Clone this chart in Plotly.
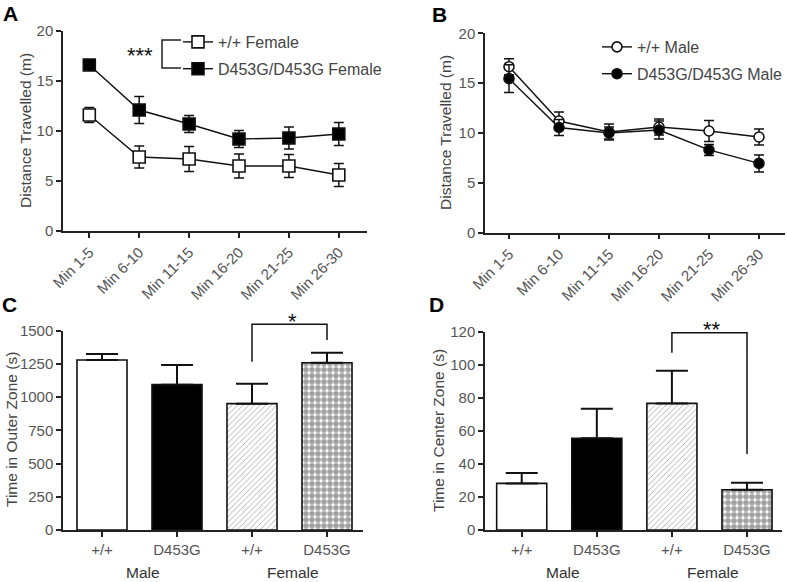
import plotly.graph_objects as go

W, H = 787, 582
FONT = "Arial, 'Liberation Sans', Helvetica, sans-serif"

# ---- data ----
time_bins = ["Min 1-5", "Min 6-10", "Min 11-15", "Min 16-20", "Min 21-25", "Min 26-30"]

female_wt = [11.6, 7.4, 7.2, 6.5, 6.5, 5.6]
female_wt_sem = [0.75, 1.1, 1.25, 1.2, 1.15, 1.15]
female_ko = [16.6, 12.1, 10.7, 9.2, 9.3, 9.7]
female_ko_sem = [0.5, 1.35, 0.85, 0.85, 1.1, 1.15]

male_wt = [16.65, 11.2, 10.1, 10.6, 10.2, 9.6]
male_wt_sem = [0.8, 0.9, 0.8, 0.8, 1.05, 0.8]
male_ko = [15.45, 10.55, 10.0, 10.3, 8.3, 6.95]
male_ko_sem = [1.4, 0.8, 0.6, 0.9, 0.55, 0.85]

genotypes = ["+/+", "D453G", "+/+", "D453G"]
sexes = ["Male", "Female"]
outer_zone = [1279, 1094, 951, 1259]
outer_zone_sem = [45, 147, 150, 75]
center_zone = [28.2, 55.5, 76.6, 24.4]
center_zone_sem = [6.3, 17.9, 19.8, 4.2]

# significance brackets: [left leg bottom, top, right leg bottom]
sig_outer = [1266, 1548, 1430]
sig_center = [107.3, 119.4, 46.0]

# ---- helpers ----
def px(x):
    return x / W

def py(y):
    return 1 - y / H

def dom(v, lo, hi):
    return (v - lo) / (hi - lo)

line_rng_a = [-0.527, 5.565]
line_rng_b = [-0.48, 5.52]
bar_rng_c = [-0.52, 3.48]
bar_rng_d = [-0.489, 3.462]

axis_style = dict(
    showline=True, linecolor="#222", linewidth=1.5,
    ticks="outside", ticklen=5, tickwidth=1.5, tickcolor="#222",
    showgrid=False, zeroline=False,
    tickfont=dict(family=FONT, size=15, color="#555"),
)

traces = []
idx = list(range(len(time_bins)))


def line_trace(y, err, symbol, fill, name, xa, ya, legend, size):
    return go.Scatter(
        x=idx, y=y, mode="lines+markers", name=name,
        line=dict(color="#111", width=1.4),
        marker=dict(symbol=symbol, size=size, color=fill,
                    line=dict(color="#111", width=1.6)),
        error_y=dict(type="data", array=err, color="#111", thickness=1.5, width=5),
        xaxis=xa, yaxis=ya, legend=legend, legendgroup=name,
    )


traces.append(line_trace(female_wt, female_wt_sem, "square", "white", "+/+ Female", "x", "y", "legend", 12))
traces.append(line_trace(female_ko, female_ko_sem, "square", "black", "D453G/D453G Female", "x", "y", "legend", 12))
traces.append(line_trace(male_wt, male_wt_sem, "circle", "white", "+/+ Male", "x2", "y2", "legend2", 10))
traces.append(line_trace(male_ko, male_ko_sem, "circle", "black", "D453G/D453G Male", "x2", "y2", "legend2", 10))

bar_marker = dict(
    color=["white", "black", "white", "white"],
    line=dict(color="#111", width=1.6),
    pattern=dict(shape=["", "", "/", "."], fgcolor=["black", "black", "#666", "black"],
                 size=[6, 6, 4, 6], solidity=[0.3, 0.3, 0.2, 0.7], fillmode="overlay"),
)
for vals, sem, xa, ya in [(outer_zone, outer_zone_sem, "x3", "y3"),
                          (center_zone, center_zone_sem, "x4", "y4")]:
    traces.append(go.Bar(
        x=[0, 1, 2, 3], y=vals, width=0.667, marker=bar_marker,
        error_y=dict(type="data", symmetric=False, array=sem, arrayminus=[0] * 4,
                     color="#111", thickness=2, width=16),
        xaxis=xa, yaxis=ya, showlegend=False,
    ))

fig = go.Figure(data=traces)

fig.update_layout(
    template="none",
    width=W, height=H,
    margin=dict(l=0, r=0, t=0, b=0, autoexpand=False),
    paper_bgcolor="white", plot_bgcolor="white",
    font=dict(family=FONT, color="#444"),
    xaxis=dict(axis_style, domain=[px(63), px(367)], range=line_rng_a, anchor="y",
               tickvals=idx, ticktext=time_bins, tickangle=-45),
    yaxis=dict(axis_style, domain=[py(231), py(31)], range=[0, 20], dtick=5, anchor="x"),
    xaxis2=dict(axis_style, domain=[px(485), px(785)], range=line_rng_b, anchor="y2",
                tickvals=idx, ticktext=time_bins, tickangle=-45),
    yaxis2=dict(axis_style, domain=[py(232.7), py(33.3)], range=[0, 20], dtick=5, anchor="x2"),
    xaxis3=dict(axis_style, domain=[px(63), px(363)], range=bar_rng_c, anchor="y3",
                tickvals=[0, 1, 2, 3], ticktext=genotypes),
    yaxis3=dict(axis_style, domain=[py(530), py(330.7)], range=[0, 1500], dtick=250, anchor="x3"),
    xaxis4=dict(axis_style, domain=[px(485), px(781.7)], range=bar_rng_d, anchor="y4",
                tickvals=[0, 1, 2, 3], ticktext=genotypes),
    yaxis4=dict(axis_style, domain=[py(530), py(331.7)], range=[0, 120], dtick=20, anchor="x4"),
    legend=dict(x=px(178), y=py(25), xanchor="left", yanchor="top",
                font=dict(family=FONT, size=16, color="#444"),
                bgcolor="rgba(0,0,0,0)", tracegroupgap=3),
    legend2=dict(x=px(597), y=py(30), xanchor="left", yanchor="top",
                 font=dict(family=FONT, size=16, color="#444"),
                 bgcolor="rgba(0,0,0,0)", tracegroupgap=3),
)

ann = []
# panel letters
for letter, x, y in [("A", 1, 0), ("B", 430, 1), ("C", 0, 291), ("D", 427, 291)]:
    ann.append(dict(text="<b>%s</b>" % letter, x=px(x), y=py(y), xref="paper", yref="paper",
                    xanchor="left", yanchor="top", showarrow=False,
                    font=dict(family=FONT, size=21, color="black")))
# y axis titles
for title, x, y in [("Distance Travelled (m)", 25, 131), ("Distance Travelled (m)", 446, 133),
                    ("Time in Outer Zone (s)", 11, 430), ("Time in Center Zone (s)", 438, 431)]:
    ann.append(dict(text=title, x=px(x), y=py(y), xref="paper", yref="paper", textangle=-90,
                    xanchor="center", yanchor="middle", showarrow=False,
                    font=dict(family=FONT, size=15.5, color="#444")))
# sex group labels
for xa in ["x3", "x4"]:
    for i, s in enumerate(sexes):
        ann.append(dict(text=s, x=0.55 + 2 * i, y=py(572), xref=xa, yref="paper",
                        xanchor="center", yanchor="middle", showarrow=False,
                        font=dict(family=FONT, size=15.5, color="#333")))
# stars
for s, x, y in [("***", 140, 52), ("*", 292, 318), ("**", 712, 326)]:
    ann.append(dict(text=s, x=px(x), y=py(y + 3), xref="paper", yref="paper",
                    xanchor="center", yanchor="middle", showarrow=False,
                    font=dict(family=FONT, size=22, color="#111")))
fig.update_layout(annotations=ann)

shapes = []
# legend bracket in panel A
shapes.append(dict(type="path", xref="paper", yref="paper",
                   path="M %f,%f H %f V %f H %f" % (px(181), py(40), px(162), py(68), px(181)),
                   line=dict(color="#222", width=1.5)))


def bracket(vals, rng, ymax, xa, ya):
    x0, x1 = dom(2, *rng), dom(3, *rng)
    y0, yt, y1 = [v / ymax for v in vals]
    return dict(type="path", xref=xa + " domain", yref=ya + " domain",
                path="M %f,%f V %f H %f V %f" % (x0, y0, yt, x1, y1),
                line=dict(color="#111", width=1.5))


shapes.append(bracket(sig_outer, bar_rng_c, 1500, "x3", "y3"))
shapes.append(bracket(sig_center, bar_rng_d, 120, "x4", "y4"))
fig.update_layout(shapes=shapes)

# the page body has a default 8px margin; drop it so the figure sits at the corner
fig.write_html("out.html", config={"displayModeBar": False},
               post_script="document.body.style.margin='0';")
